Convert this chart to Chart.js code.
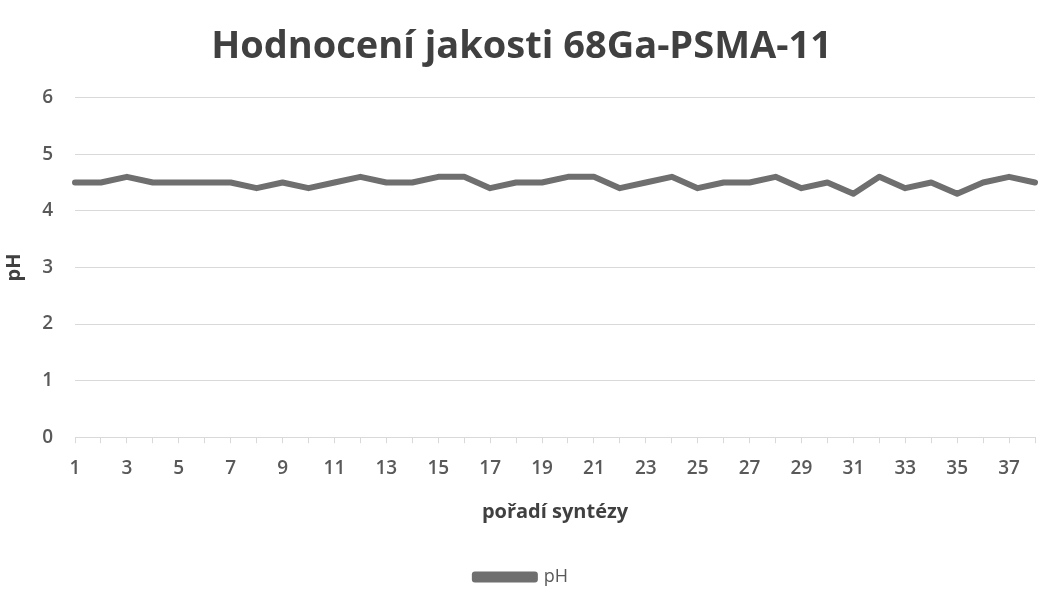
<!DOCTYPE html>
<html lang="cs">
<head>
<meta charset="utf-8">
<title>Hodnocení jakosti 68Ga-PSMA-11</title>
<script src="https://cdn.jsdelivr.net/npm/chart.js@4.4.1/dist/chart.umd.min.js"></script>
<style>
  html, body { margin: 0; padding: 0; background: #fff; }
  #wrap { width: 1043px; height: 597px; }
</style>
</head>
<body>
<div id="wrap"><canvas id="ph"></canvas></div>
<script>
/* data */
const syntheses = Array.from({ length: 38 }, (_, i) => String(i + 1));
const phValues = [
  4.5, 4.5, 4.6, 4.5, 4.5, 4.5, 4.5, 4.4, 4.5, 4.4,
  4.5, 4.6, 4.5, 4.5, 4.6, 4.6, 4.4, 4.5, 4.5, 4.6,
  4.6, 4.4, 4.5, 4.6, 4.4, 4.5, 4.5, 4.6, 4.4, 4.5,
  4.3, 4.6, 4.4, 4.5, 4.3, 4.5, 4.6, 4.5,
];
const yTicks = [0, 1, 2, 3, 4, 5, 6];

const FONT = '"Open Sans", "DejaVu Sans", sans-serif';
const col = { line: '#6f6f6f', text: '#595959', dark: '#404040', grid: '#d9d9d9' };

Chart.defaults.font.family = FONT;
Chart.defaults.color = col.text;
Chart.defaults.animation = false;

new Chart(document.getElementById('ph'), {
  type: 'line',
  data: {
    labels: syntheses,
    datasets: [{
      label: 'pH',
      data: phValues,
      borderColor: col.line,
      backgroundColor: col.line,
      borderWidth: 6,
      borderJoinStyle: 'round',
      borderCapStyle: 'round',
      pointRadius: 0,
      tension: 0,
      fill: false,
    }],
  },
  options: {
    responsive: true,
    maintainAspectRatio: false,
    layout: { padding: { left: 0, right: 0, top: 0, bottom: 1 } },
    plugins: {
      title: {
        display: true,
        text: 'Hodnocení jakosti 68Ga-PSMA-11',
        color: col.dark,
        font: { size: 38, weight: 'bold' },
        padding: { top: 24, bottom: 28 },
      },
      legend: {
        position: 'bottom',
        labels: { boxWidth: 60, boxHeight: 5, color: col.text, font: { size: 18 }, padding: 10 },
      },
      tooltip: { enabled: false },
    },
    scales: {
      x: {
        offset: false,
        grid: { drawOnChartArea: false, drawTicks: true, tickLength: 6, color: col.grid },
        border: { color: col.grid },
        ticks: {
          autoSkip: false, maxRotation: 0, padding: 14,
          font: { size: 19, weight: '600' }, color: col.text,
          callback: (v, i) => (i % 2 === 0 ? syntheses[i] : ''),
        },
        title: {
          display: true, text: 'pořadí syntézy', color: col.dark,
          font: { size: 20, weight: 'bold' }, padding: { top: 6, bottom: 34 },
        },
        // keep the plot running out to the right edge like the original
        afterFit: (s) => { s.paddingRight = 8; },
      },
      y: {
        min: yTicks[0],
        max: yTicks[yTicks.length - 1],
        grid: { color: col.grid, drawTicks: false },
        border: { display: false },
        ticks: { stepSize: 1, padding: 22, font: { size: 19, weight: '600' }, color: col.text },
        title: {
          display: true, text: 'pH', color: col.dark,
          font: { size: 20, weight: 'bold' }, padding: { top: 2, bottom: 4 },
        },
        afterFit: (s) => { s.width = 75; },
      },
    },
  },
});
</script>
</body>
</html>
